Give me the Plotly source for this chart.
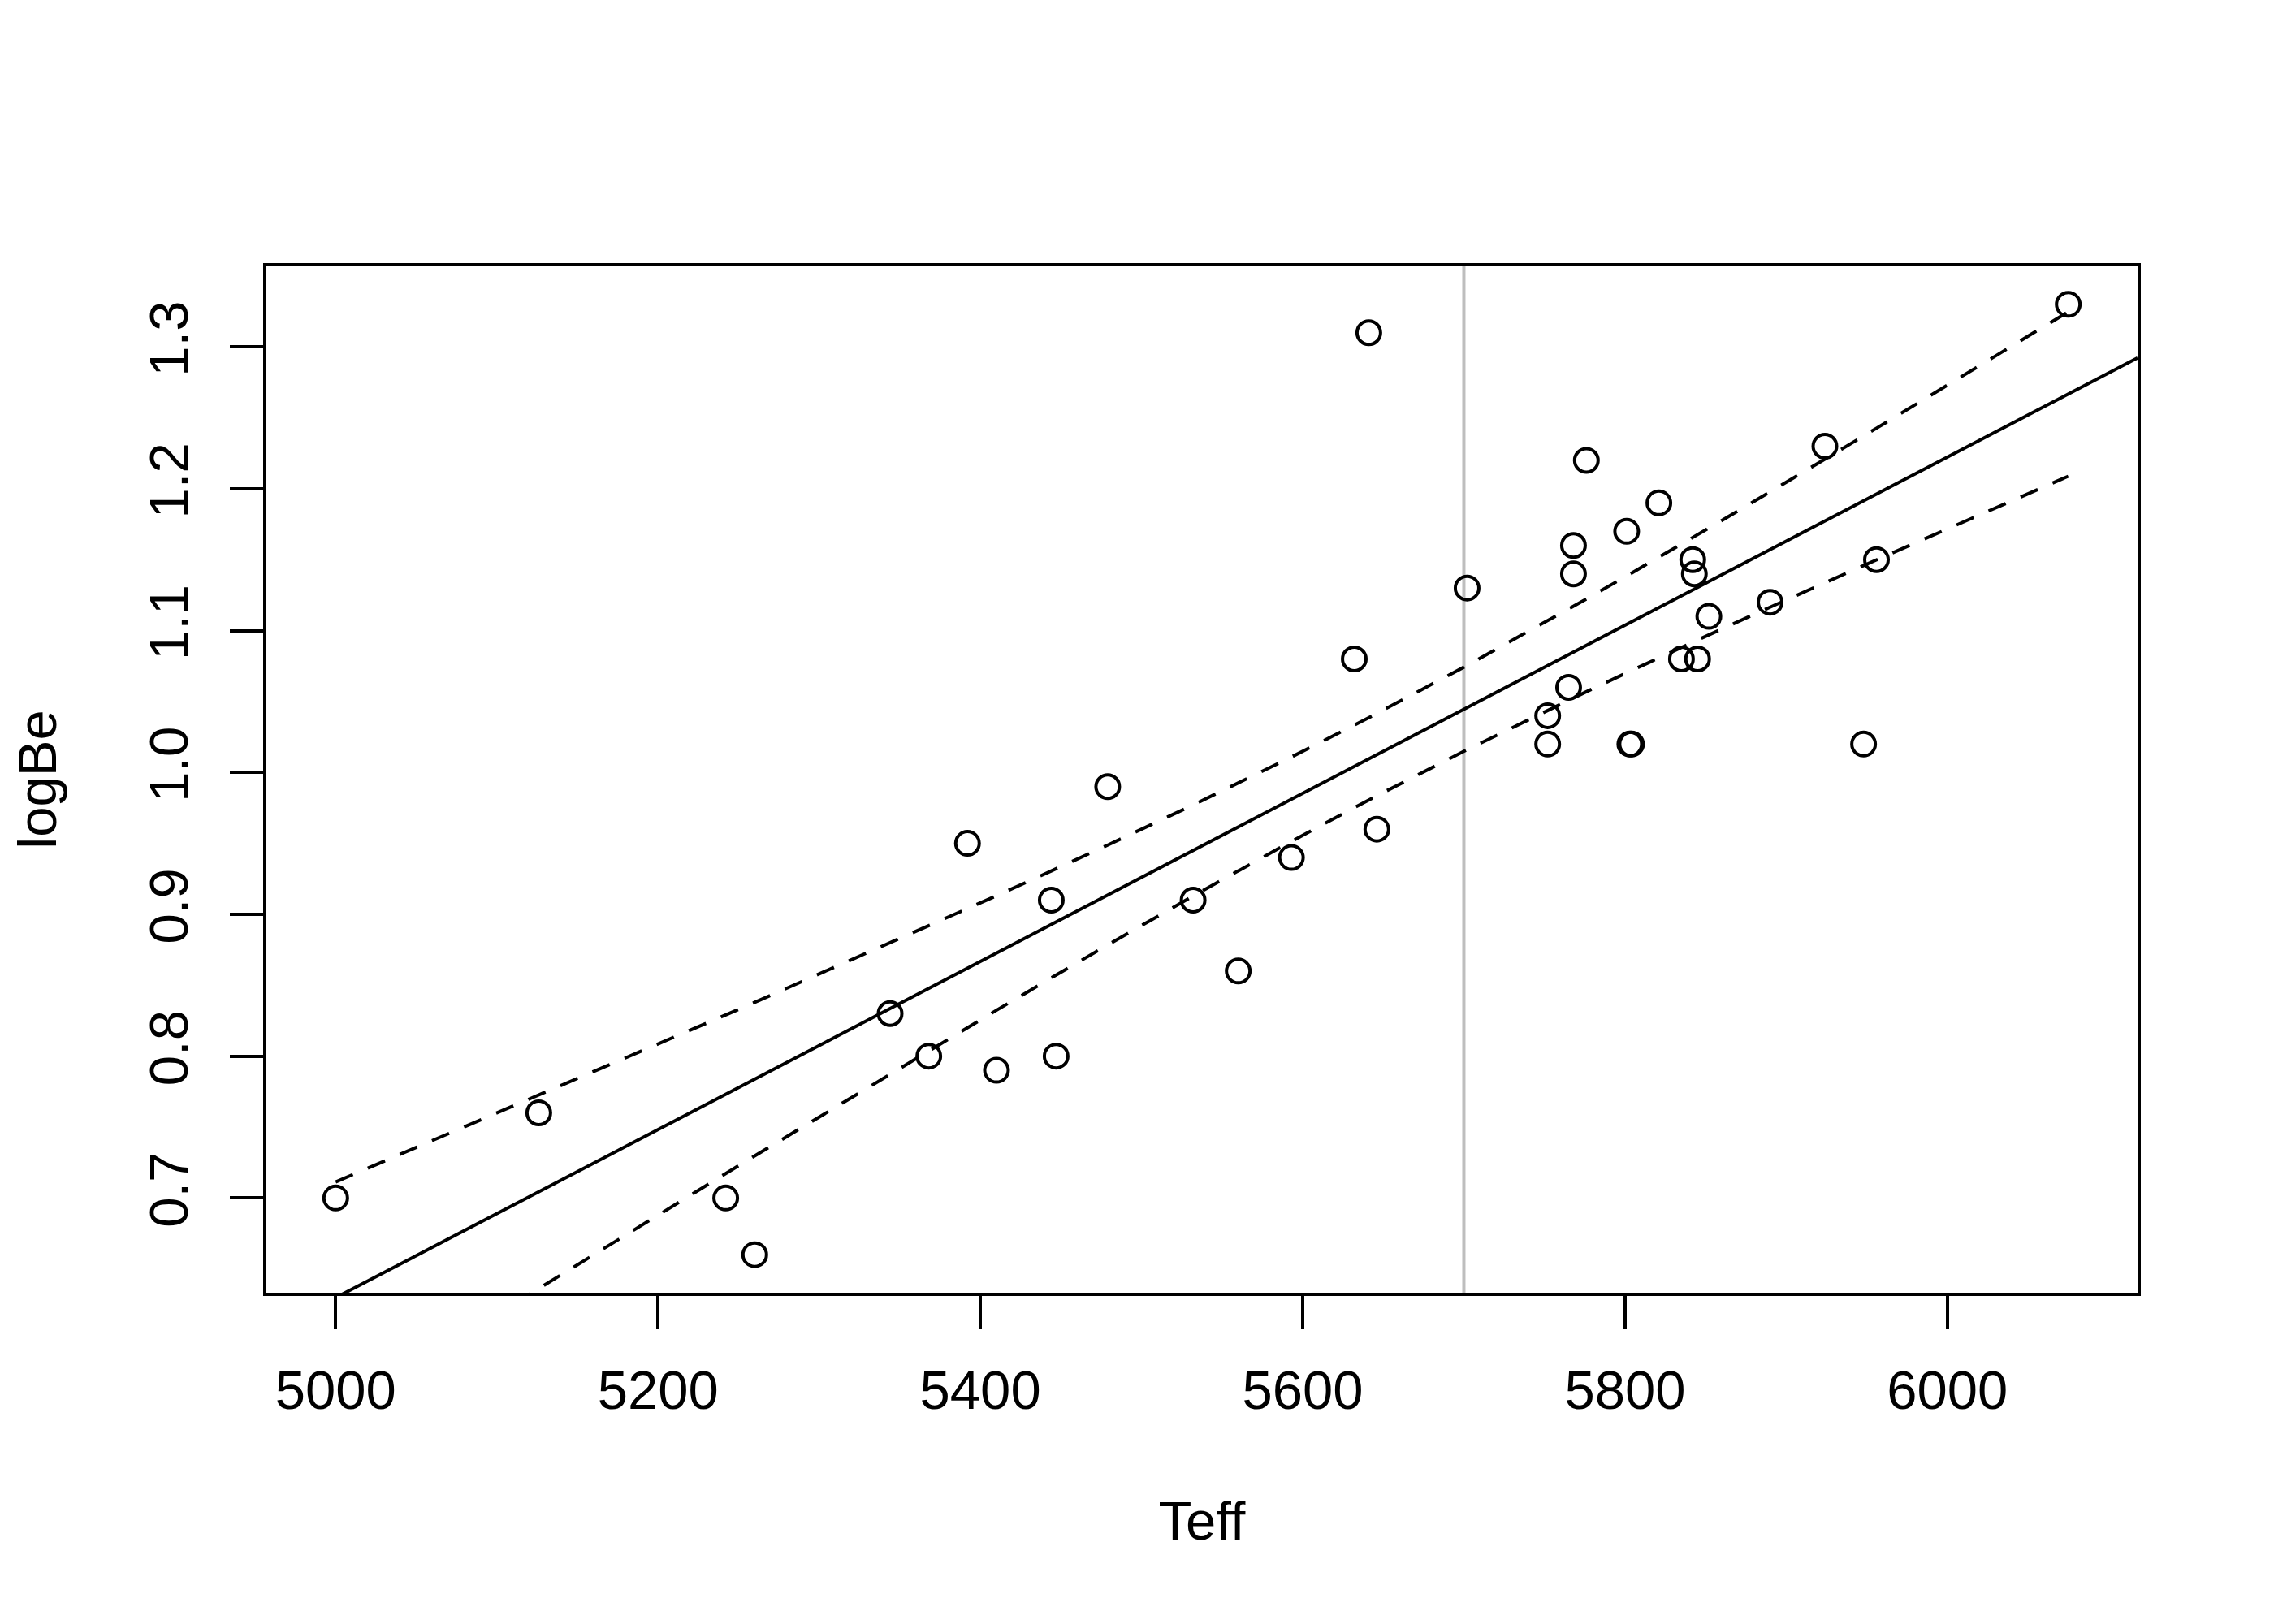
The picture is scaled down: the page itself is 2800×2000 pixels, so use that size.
import numpy as np
import plotly.graph_objects as go

# Teff vs logBe
teff = [5000, 5126, 5242, 5260, 5344, 5368, 5392, 5410, 5444, 5447,
        5479, 5532, 5560, 5593, 5632, 5641, 5646, 5702, 5752, 5752,
        5765, 5768, 5768, 5776, 5801, 5803, 5804, 5821, 5835, 5842,
        5843, 5845, 5852, 5890, 5924, 5948, 5956, 6075]
log_be = [0.70, 0.76, 0.70, 0.66, 0.83, 0.80, 0.95, 0.79, 0.91, 0.80,
          0.99, 0.91, 0.86, 0.94, 1.08, 1.31, 0.96, 1.13, 1.04, 1.02,
          1.06, 1.16, 1.14, 1.22, 1.17, 1.02, 1.02, 1.19, 1.08, 1.15,
          1.14, 1.08, 1.11, 1.12, 1.23, 1.02, 1.15, 1.33]

v_line_teff = 5700
x_ticks = [5000, 5200, 5400, 5600, 5800, 6000]
y_ticks = [0.7, 0.8, 0.9, 1.0, 1.1, 1.2, 1.3]

FONT = "Liberation Sans, Arial, sans-serif"
LW = 4


def r_range(v):
    # R's default axis range: data range padded 4% each side
    lo, hi = min(v), max(v)
    d = 0.04 * (hi - lo)
    return [lo - d, hi + d]


# linear fit + 95% confidence band (like lm / predict(interval="confidence"))
x = np.array(teff, dtype=float)
y = np.array(log_be, dtype=float)
n = len(x)
slope, intercept = np.polyfit(x, y, 1)
resid = y - (intercept + slope * x)
s = np.sqrt(np.sum(resid ** 2) / (n - 2))
sxx = np.sum((x - x.mean()) ** 2)
t_crit = 2.0281  # qt(0.975, df=36)

grid = np.unique(x)
fit = intercept + slope * grid
half = t_crit * s * np.sqrt(1.0 / n + (grid - x.mean()) ** 2 / sxx)

xr = r_range(teff)
yr = r_range(log_be)

fig = go.Figure()

fig.add_trace(go.Scatter(
    x=teff, y=log_be, mode="markers",
    marker=dict(symbol="circle-open", size=29, color="black",
                line=dict(color="black", width=LW)),
    cliponaxis=False, showlegend=False))

fig.add_trace(go.Scatter(
    x=xr, y=[intercept + slope * v for v in xr], mode="lines",
    line=dict(color="black", width=LW), showlegend=False))

for band in (fit + half, fit - half):
    fig.add_trace(go.Scatter(
        x=grid, y=band, mode="lines",
        line=dict(color="black", width=LW, dash="23px,20px"),
        showlegend=False))

fig.add_shape(type="line", xref="x", yref="y domain",
              x0=v_line_teff, x1=v_line_teff, y0=0, y1=1,
              line=dict(color="#BEBEBE", width=LW), layer="below")

axis_common = dict(
    showline=True, mirror=True, linecolor="black", linewidth=LW,
    ticks="outside", ticklen=41, tickwidth=LW, tickcolor="black",
    showgrid=False, zeroline=False,
    tickfont=dict(family=FONT, size=67, color="black"),
)

fig.update_xaxes(
    range=xr, tickvals=x_ticks, ticklabelstandoff=18,
    title=dict(text="Teff", font=dict(family=FONT, size=67, color="black"),
               standoff=102),
    **axis_common)
fig.update_yaxes(
    range=yr, tickvals=y_ticks, tickformat=".1f", tickangle=-90,
    ticklabelstandoff=25,
    title=dict(text="logBe", font=dict(family=FONT, size=67, color="black"),
               standoff=102),
    **axis_common)

# page body adds an 8px offset, so margins are trimmed by 8 on left/top
fig.update_layout(
    width=2800, height=2000,
    margin=dict(l=320, r=176, t=320, b=416),
    paper_bgcolor="white", plot_bgcolor="white",
    font=dict(family=FONT, color="black"),
)

fig.write_html("out.html")
